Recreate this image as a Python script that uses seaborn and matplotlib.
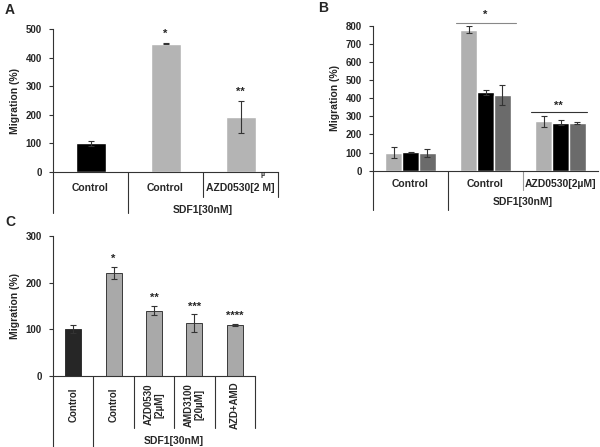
import matplotlib
matplotlib.use("Agg")
import matplotlib.pyplot as plt
import seaborn as sns
import numpy as np
import pandas as pd

# ---- data ----
a_groups = ["Control", "SDF1 Control", "SDF1 AZD0530"]
a_values = [100, 448, 193]
a_errors = [8, 2, 55]
a_colors = ["#000000", "#b4b4b4", "#b4b4b4"]
a_stars = ["", "*", "**"]

b_groups = ["Control", "SDF1 Control", "SDF1 AZD0530"]
b_series = ["s1", "s2", "s3"]
b_values = [[100, 102, 100],
            [778, 432, 420],
            [272, 265, 265]]
b_errors = [[28, 3, 22],
            [20, 12, 55],
            [30, 12, 5]]
b_colors = ["#b0b0b0", "#000000", "#6b6b6b"]

c_groups = ["Control", "SDF1 Control", "AZD0530", "AMD3100", "AZD+AMD"]
c_values = [100, 221, 140, 113, 109]
c_errors = [8, 13, 10, 19, 3]
c_colors = ["#262626", "#a9a9a9", "#a9a9a9", "#a9a9a9", "#a9a9a9"]
c_stars = ["", "*", "**", "***", "****"]

W, H, DPI = 600, 447, 100

sns.set_theme(style="ticks")
plt.rcParams["font.family"] = ["Liberation Sans", "DejaVu Sans"]
plt.rcParams["font.weight"] = "bold"

fig = plt.figure(figsize=(W / DPI, H / DPI), dpi=DPI)


def make_axes(left, right, top, bottom):
    return fig.add_axes([left / W, 1 - bottom / H, (right - left) / W, (bottom - top) / H])


def style_axes(ax, ymax, step):
    ax.set_ylim(0, ymax)
    ax.set_yticks(np.arange(0, ymax + 1, step))
    ax.set_xticks([])
    ax.set_xlabel("")
    ax.set_ylabel("Migration (%)", fontsize=7.5, fontweight="bold")
    ax.tick_params(axis="y", labelsize=7, length=3, width=0.8, pad=5, color="#333333")
    for lbl in ax.get_yticklabels():
        lbl.set_fontweight("bold")
    sns.despine(ax=ax)
    for s in ["left", "bottom"]:
        ax.spines[s].set_linewidth(0.8)
        ax.spines[s].set_color("#333333")


def ax_px(ax, px):
    # pixels below the x axis -> axes fraction
    return -px / (ax.get_position().height * H)


def vline(ax, x, px, color="#333333"):
    ax.plot([x, x], [0, ax_px(ax, px)], transform=ax.get_xaxis_transform(),
            color=color, lw=0.8, clip_on=False)


def label(ax, x, px, text, size=7.5, **kw):
    ax.text(x, ax_px(ax, px), text, transform=ax.get_xaxis_transform(),
            ha="center", va="center", fontsize=size, fontweight="bold", **kw)


# ---- panel A ----
axA = make_axes(53, 278, 29, 172)
sns.barplot(x=a_groups, y=a_values, hue=a_groups, palette=a_colors, width=0.4,
            errorbar=None, legend=False, ax=axA, saturation=1)
axA.errorbar(range(3), a_values, yerr=a_errors, fmt="none", ecolor="#333333",
             elinewidth=0.8, capsize=2, capthick=0.8)
axA.set_xlim(-0.5, 2.5)
style_axes(axA, 500, 100)
for i, s in enumerate(a_stars):
    if s:
        axA.text(i, a_values[i] + a_errors[i] + 15, s, ha="center", va="bottom",
                 fontsize=8, fontweight="bold")
vline(axA, -0.5, 41)
vline(axA, 0.5, 41)
vline(axA, 1.5, 25)
vline(axA, 2.5, 25)
label(axA, 0, 16, "Control")
label(axA, 1, 16, "Control")
label(axA, 2, 16, "AZD0530[2 M]")
label(axA, 2.3, 3, "µ", size=5)
label(axA, 1.5, 38, "SDF1[30nM]")
fig.text(5 / W, 1 - 10 / H, "A", fontsize=10, fontweight="bold", va="center")

# ---- panel B ----
axB = make_axes(373, 598, 25.7, 170.7)
df_b = pd.DataFrame([(g, s, b_values[i][j]) for i, g in enumerate(b_groups)
                     for j, s in enumerate(b_series)], columns=["group", "series", "value"])
gw = 0.667
sns.barplot(data=df_b, x="group", y="value", hue="series", palette=b_colors,
            width=gw, errorbar=None, legend=False, ax=axB, saturation=1)
for i in range(3):
    for j in range(3):
        x = i + (j - 1) * gw / 3
        axB.errorbar(x, b_values[i][j], yerr=b_errors[i][j], fmt="none",
                     ecolor="#333333", elinewidth=0.8, capsize=2, capthick=0.8)
axB.set_xlim(-0.5, 2.5)
style_axes(axB, 800, 100)
axB.plot([0.6, 1.4], [815, 815], color="#888888", lw=0.8, clip_on=False)
axB.text(1.0, 830, "*", ha="center", va="bottom", fontsize=8, fontweight="bold")
axB.plot([1.6, 2.35], [324, 324], color="#333333", lw=0.8)
axB.text(1.975, 332, "**", ha="center", va="bottom", fontsize=8, fontweight="bold")
vline(axB, -0.5, 39)
vline(axB, 0.5, 39)
vline(axB, 1.5, 19, color="#999999")
label(axB, 0, 13, "Control")
label(axB, 1, 13, "Control")
label(axB, 2, 13, "AZD0530[2µM]")
label(axB, 1.5, 31, "SDF1[30nM]")
fig.text(318 / W, 1 - 8 / H, "B", fontsize=10, fontweight="bold", va="center")

# ---- panel C ----
axC = make_axes(53, 255, 236, 375.7)
sns.barplot(x=c_groups, y=c_values, hue=c_groups, palette=c_colors, width=0.4,
            errorbar=None, legend=False, ax=axC, saturation=1,
            edgecolor="#222222", linewidth=0.6)
axC.errorbar(range(5), c_values, yerr=c_errors, fmt="none", ecolor="#333333",
             elinewidth=0.8, capsize=2, capthick=0.8)
axC.set_xlim(-0.5, 4.5)
style_axes(axC, 300, 100)
for i, s in enumerate(c_stars):
    if s:
        axC.text(i, c_values[i] + c_errors[i] + 6, s, ha="center", va="bottom",
                 fontsize=8, fontweight="bold")
vline(axC, -0.5, 72)
vline(axC, 0.5, 72)
for x in [1.5, 2.5, 3.5, 4.5]:
    vline(axC, x, 52)
c_labels = ["Control", "Control", "AZD0530\n[2µM]", "AMD3100\n[20µM]", "AZD+AMD"]
for i, t in enumerate(c_labels):
    label(axC, i, 29, t, size=7, rotation=90, linespacing=1.1)
label(axC, 2.5, 65, "SDF1[30nM]")
fig.text(5 / W, 1 - 222 / H, "C", fontsize=10, fontweight="bold", va="center")

fig.savefig("out.png", dpi=DPI)
